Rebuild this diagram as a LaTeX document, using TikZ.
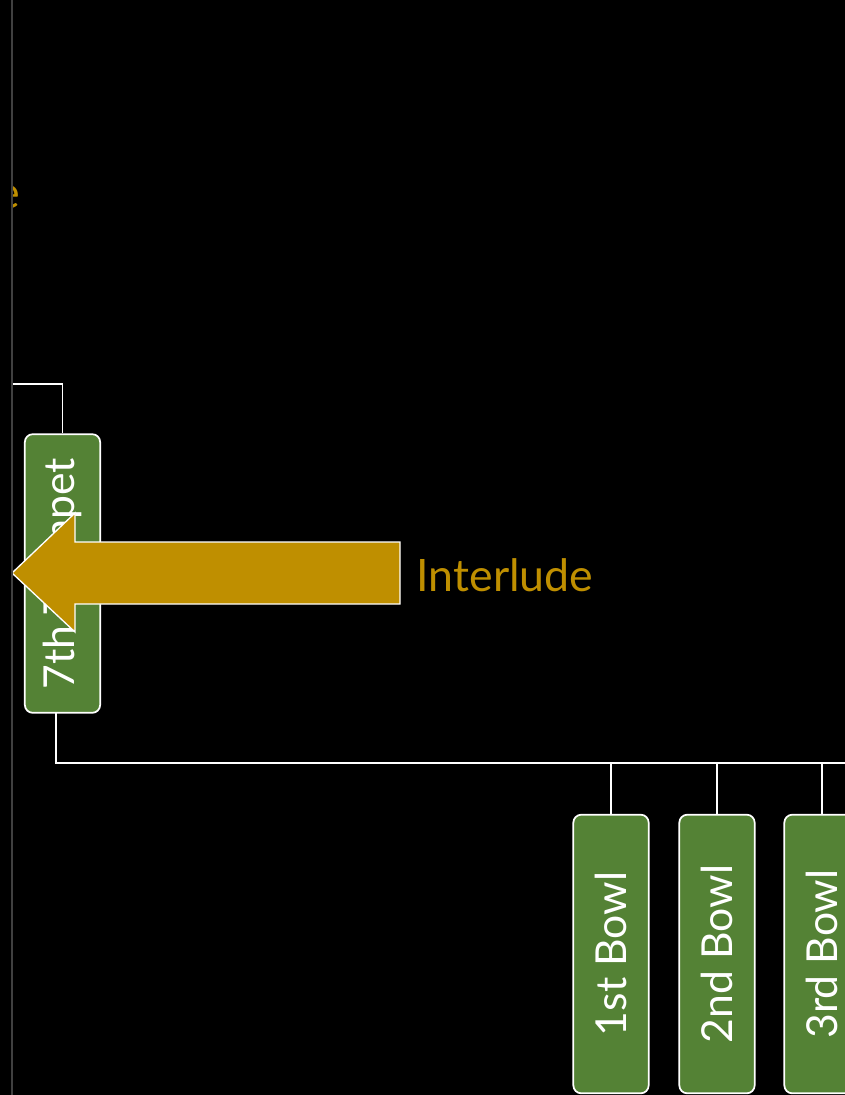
\documentclass[tikz,border=0pt]{standalone}
\usepackage{fontspec}
\setmainfont{Lato}
\usetikzlibrary{calc}
\definecolor{boxgreen}{HTML}{548235}
\definecolor{gold}{HTML}{BF8F00}
\definecolor{edgegrey}{HTML}{404040}

\begin{document}
\begin{tikzpicture}[
		x=0.75pt, y=-0.75pt,
		box/.style={draw=white, line width=1.3pt, fill=boxgreen, rounded corners=6pt,
			minimum width=56.5pt, minimum height=209pt, inner sep=0pt,
			text=white, font=\fontsize{32}{36}\selectfont},
		link/.style={draw=white, line width=1.4pt},
		bigarrow/.style={fill=gold, draw=white, line width=1pt},
		label/.style={text=gold, font=\fontsize{33.5}{38}\selectfont},
	]
	\fill[black] (0,0) rectangle (845,1095);
	\useasboundingbox (0,0) rectangle (845,1095);
	\begin{scope}
	\clip (13,0) rectangle (845,1095);
	\node[label, anchor=east, inner sep=0pt] (cut) at (20,197) {e};
	% boxes
	\node[box] (t7) at (62.5,573.5) {\rotatebox{90}{7th Trumpet}};
	\node[box] (b1) at (611,954) {\rotatebox{90}{1st Bowl}};
	\node[box] (b2) at (717,954) {\rotatebox{90}{2nd Bowl}};
	\node[box] (b3) at (822,954) {\rotatebox{90}{3rd Bowl}};
	% connectors
	\coordinate (lefttop) at (12,384);
	\coordinate (tdrop) at (56,713);
	\coordinate (busend) at (845,763);
	\draw[link] (lefttop) -| (t7.north);
	\draw[link] (tdrop) |- (busend);
	\foreach \b in {b1,b2,b3}
		\draw[link] (\b.north |- busend) -- (\b.north);
	% interlude arrow
	\coordinate (tip) at (12,573);
	\coordinate (A) at (75,513);
	\coordinate (B) at (75,542);
	\coordinate (C) at (400,542);
	\coordinate (D) at (400,604);
	\coordinate (E) at (75,604);
	\coordinate (F) at (75,632);
	\draw[bigarrow] (tip) -- (A) -- (B) -- (C) -- (D) -- (E) -- (F) -- cycle;
	\node[label, anchor=west] (interlude) at (412,575) {Interlude};
	\end{scope}
	% left edge of the slide
	\draw[edgegrey, line width=1.5pt] (12,0) -- (12,1095);
\end{tikzpicture}
\end{document}
